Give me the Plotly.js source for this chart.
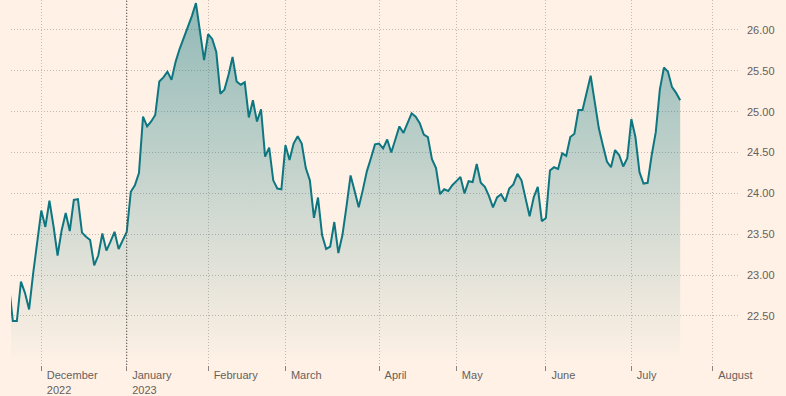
<!DOCTYPE html>
<html>
<head>
<meta charset="utf-8">
<script src="https://cdn.plot.ly/plotly-3.0.1.min.js"></script>
<style>
html,body{margin:0;padding:0;background:#fff1e5;}
#chart{width:786px;height:396px;}
</style>
</head>
<body>
<div id="chart"></div>
<script>
// Trading days (US market) and closing values
const dates = [
"2022-11-18","2022-11-21","2022-11-22","2022-11-23","2022-11-25","2022-11-28","2022-11-29","2022-11-30",
"2022-12-01","2022-12-02","2022-12-05","2022-12-06","2022-12-07","2022-12-08","2022-12-09","2022-12-12",
"2022-12-13","2022-12-14","2022-12-15","2022-12-16","2022-12-19","2022-12-20","2022-12-21","2022-12-22",
"2022-12-23","2022-12-27","2022-12-28","2022-12-29","2022-12-30",
"2023-01-03","2023-01-04","2023-01-05","2023-01-06","2023-01-09","2023-01-10","2023-01-11","2023-01-12",
"2023-01-13","2023-01-17","2023-01-18","2023-01-19","2023-01-20","2023-01-23","2023-01-24","2023-01-25",
"2023-01-26","2023-01-27","2023-01-30","2023-01-31",
"2023-02-01","2023-02-02","2023-02-03","2023-02-06","2023-02-07","2023-02-08","2023-02-09","2023-02-10",
"2023-02-13","2023-02-14","2023-02-15","2023-02-16","2023-02-17","2023-02-21","2023-02-22","2023-02-23",
"2023-02-24","2023-02-27","2023-02-28",
"2023-03-01","2023-03-02","2023-03-03","2023-03-06","2023-03-07","2023-03-08","2023-03-09","2023-03-10",
"2023-03-13","2023-03-14","2023-03-15","2023-03-16","2023-03-17","2023-03-20","2023-03-21","2023-03-22",
"2023-03-23","2023-03-24","2023-03-27","2023-03-28","2023-03-29","2023-03-30","2023-03-31",
"2023-04-03","2023-04-04","2023-04-05","2023-04-06","2023-04-10","2023-04-11","2023-04-12","2023-04-13",
"2023-04-14","2023-04-17","2023-04-18","2023-04-19","2023-04-20","2023-04-21","2023-04-24","2023-04-25",
"2023-04-26","2023-04-27","2023-04-28",
"2023-05-01","2023-05-02","2023-05-03","2023-05-04","2023-05-05","2023-05-08","2023-05-09","2023-05-10",
"2023-05-11","2023-05-12","2023-05-15","2023-05-16","2023-05-17","2023-05-18","2023-05-19","2023-05-22",
"2023-05-23","2023-05-24","2023-05-25","2023-05-26","2023-05-30","2023-05-31",
"2023-06-01","2023-06-02","2023-06-05","2023-06-06","2023-06-07","2023-06-08","2023-06-09","2023-06-12",
"2023-06-13","2023-06-14","2023-06-15","2023-06-16","2023-06-20","2023-06-21","2023-06-22","2023-06-23",
"2023-06-26","2023-06-27","2023-06-28","2023-06-29","2023-06-30",
"2023-07-03","2023-07-05","2023-07-06","2023-07-07","2023-07-10","2023-07-11","2023-07-12","2023-07-13",
"2023-07-14","2023-07-17","2023-07-18","2023-07-19","2023-07-20"
];

const prices = [
22.90,22.44,22.44,22.92,22.78,22.58,23.02,23.43,
23.79,23.59,23.91,23.60,23.24,23.55,23.76,23.54,
23.92,23.93,23.52,23.47,23.43,23.12,23.24,23.51,
23.30,23.41,23.53,23.32,23.43,
23.53,24.02,24.10,24.25,24.94,24.82,24.88,24.96,
25.37,25.42,25.49,25.39,25.61,25.77,25.90,26.03,
26.17,26.33,25.99,25.63,
25.95,25.89,25.73,25.22,25.27,25.45,25.67,25.37,
25.33,25.36,24.93,25.14,24.88,25.03,24.45,24.56,
24.16,24.06,24.05,
24.59,24.41,24.61,24.70,24.61,24.31,24.16,23.70,
23.95,23.49,23.32,23.35,23.65,23.27,23.49,23.84,
24.22,24.03,23.83,24.04,24.27,24.43,24.60,
24.61,24.55,24.66,24.50,24.66,24.82,24.74,24.86,
24.98,24.94,24.86,24.72,24.69,24.42,24.31,23.99,
24.05,24.03,24.10,
24.15,24.20,24.00,24.15,24.14,24.36,24.13,24.08,
23.97,23.83,23.95,23.99,23.90,24.06,24.11,24.24,
24.16,23.92,23.72,23.95,24.08,23.66,
23.70,24.28,24.32,24.30,24.49,24.46,24.69,24.73,
25.02,25.02,25.23,25.44,25.12,24.80,24.59,24.39,
24.32,24.53,24.47,24.33,24.43,
24.91,24.69,24.26,24.12,24.13,24.47,24.75,25.27,
25.54,25.49,25.30,25.23,25.14
];

// Market holidays (removed from the axis like weekends)
const holidays = ["2022-11-24","2022-12-26","2023-01-02","2023-01-16","2023-02-20",
                  "2023-04-07","2023-05-29","2023-06-19","2023-07-04"];

// Month ticks (first trading day of each month)
const xTickVals = ["2022-12-01","2023-01-03","2023-02-01","2023-03-01","2023-04-03",
                   "2023-05-01","2023-06-01","2023-07-03","2023-08-01"];
const xTickText = ["December<br>2022","January<br>2023","February","March","April",
                   "May","June","July","August"];

const yTickVals = [22.5,23.0,23.5,24.0,24.5,25.0,25.5,26.0];
const yTickText = ["22.50","23.00","23.50","24.00","24.50","25.00","25.50","26.00"];

const yRange = [21.90, 26.367];
const xRange = ["2022-11-18 13:18", "2023-08-09 16:48"];
const yearBoundary = "2023-01-03";

const trace = {
  x: dates, y: prices,
  type: "scatter", mode: "lines",
  line: {color: "#0d7680", width: 2},
  fill: "tozeroy",
  fillgradient: {
    type: "vertical",
    start: yRange[0], stop: yRange[1],
    colorscale: [[0, "rgba(13,118,128,0)"], [1, "rgba(13,118,128,0.46)"]]
  },
  hoverinfo: "x+y"
};

const layout = {
  width: 786, height: 396,
  margin: {l: 11, r: 46, t: 0, b: 31, pad: 0},
  paper_bgcolor: "#fff1e5",
  plot_bgcolor: "#fff1e5",
  showlegend: false,
  font: {family: "Liberation Sans, Arial, sans-serif", size: 11, color: "#66605c"},
  xaxis: {
    type: "date",
    range: xRange,
    rangebreaks: [{bounds: ["sat", "mon"]}, {values: holidays}],
    tickmode: "array",
    tickvals: xTickVals,
    ticktext: xTickText,
    ticks: "outside", ticklen: 5, tickwidth: 1, tickcolor: "#8a8380",
    ticklabelposition: "outside right",
    ticklabelshift: 5,
    showgrid: true, gridcolor: "#c4b9b0", griddash: "1px,2px", gridwidth: 1,
    showline: false, zeroline: false,
    tickfont: {size: 11, color: "#66605c"}
  },
  yaxis: {
    side: "right",
    range: yRange,
    tickmode: "array",
    tickvals: yTickVals,
    ticktext: yTickText,
    ticks: "",
    ticklabelstandoff: 6,
    showgrid: true, gridcolor: "#c4b9b0", griddash: "1px,2px", gridwidth: 1,
    showline: false, zeroline: false,
    tickfont: {size: 11, color: "#66605c"}
  },
  shapes: [{
    type: "line", xref: "x", yref: "paper",
    x0: yearBoundary, x1: yearBoundary, y0: 0, y1: 1,
    line: {color: "#4d4845", width: 1, dash: "1px,2px"}
  }]
};

Plotly.newPlot("chart", [trace], layout, {displayModeBar: false, staticPlot: true});
</script>
</body>
</html>
